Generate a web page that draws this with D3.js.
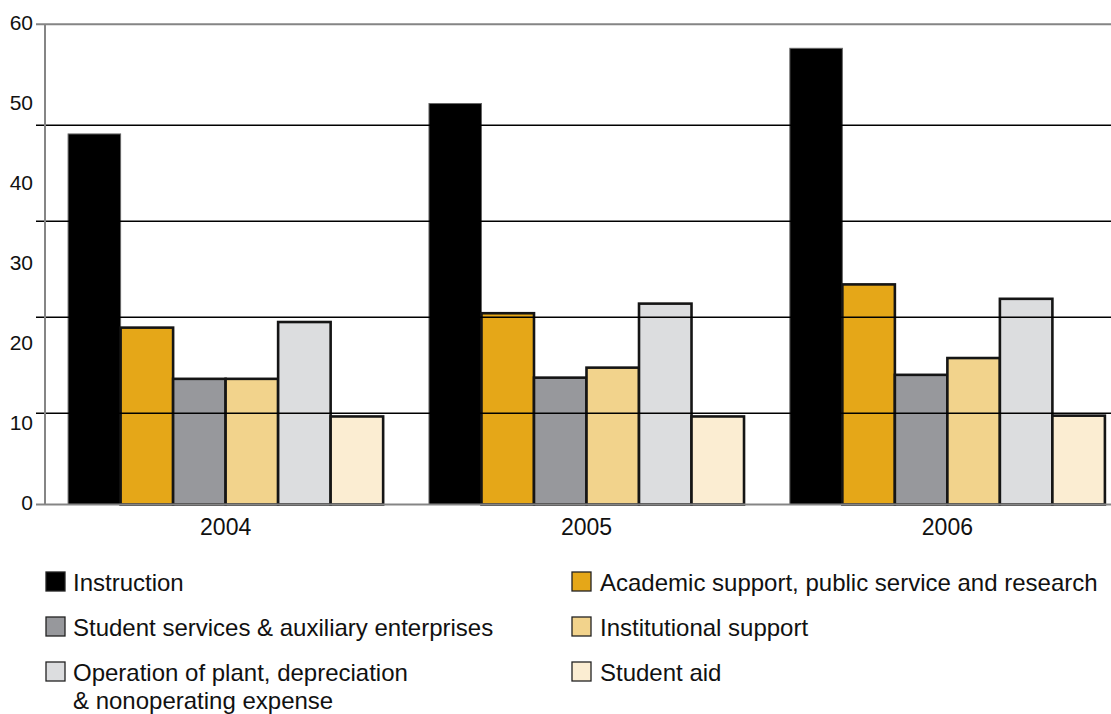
<!DOCTYPE html>
<html>
<head>
<meta charset="utf-8">
<script src="https://cdn.jsdelivr.net/npm/d3@7"></script>
<style>
  body { margin: 0; background: #fff; }
  svg { display: block; font-family: "Liberation Sans", Arial, Helvetica, sans-serif; }
</style>
</head>
<body>
<div id="chart"></div>
<script>
// datos:
const years = ["2004", "2005", "2006"]
const categories = [
  "Instruction",
  "Academic support, public service and research",
  "Student services & auxiliary enterprises",
  "Institutional support",
  "Operation of plant, depreciation & nonoperating expense",
  "Student aid"
]
const instruction = [46.3, 50.1, 57.0]
const academic = [22.1, 23.9, 27.5]
const studentServices = [15.7, 15.85, 16.2]
const institutional = [15.7, 17.1, 18.3]
const operation = [22.8, 25.1, 25.7]
const studentAid = [11.0, 11.0, 11.1]
const yTicks = [0, 10, 20, 30, 40, 50, 60]
// the horizontal rules in the original don't sit on the labelled ticks
const gridValues = [11.4, 23.4, 35.4, 47.4]

const series = [instruction, academic, studentServices, institutional, operation, studentAid]
const colors = ["#000000", "#e5a718", "#97989c", "#f2d38c", "#dcdddf", "#fbedd2"]

// legend layout: label lines, column, row
const legendItems = [
  { lines: ["Instruction"], col: 0, row: 0 },
  { lines: ["Academic support, public service and research"], col: 1, row: 0 },
  { lines: ["Student services & auxiliary enterprises"], col: 0, row: 1 },
  { lines: ["Institutional support"], col: 1, row: 1 },
  { lines: ["Operation of plant, depreciation", "& nonoperating expense"], col: 0, row: 2 },
  { lines: ["Student aid"], col: 1, row: 2 }
]

// Constantes:
const width = 1111
const height = 714
const plotLeft = 45
const plotTop = 24.3
const plotBottom = 504.5

let svg = d3.select('div#chart').append('svg').attr('width', width).attr('height', height)

// escalas:
let x0 = d3.scaleBand().domain(years).range([plotLeft, 1128]).paddingInner(0.127).paddingOuter(0.064)
let x1 = d3.scaleBand().domain(categories).range([0, x0.bandwidth()])
let y = d3.scaleLinear().domain([0, 60]).range([plotBottom, plotTop])

// barras:
let table = []
years.forEach((yr, i) => {
  categories.forEach((c, j) => {
    table.push({ year: yr, cat: c, idx: j, value: series[j][i] })
  })
})

svg.append('g').attr('id', 'bars')
  .selectAll('rect').data(table).enter().append('rect')
  .attr('x', d => x0(d.year) + x1(d.cat))
  .attr('y', d => y(d.value))
  .attr('width', x1.bandwidth())
  .attr('height', d => y(0) - y(d.value))
  .attr('fill', d => colors[d.idx])
  .attr('stroke', d => d.idx === 0 ? '#666' : '#151515')
  .attr('stroke-width', d => d.idx === 0 ? 1 : 2.6)

// rejilla (on top of the bars, as in the original):
svg.append('g').attr('id', 'grid')
  .selectAll('line').data(gridValues).enter().append('line')
  .attr('x1', 36).attr('x2', width)
  .attr('y1', d => y(d)).attr('y2', d => y(d))
  .attr('stroke', '#000').attr('stroke-width', 1.5)

// marco:
let frame = svg.append('g').attr('id', 'frame')
frame.append('line').attr('x1', 36).attr('x2', width).attr('y1', y(60)).attr('y2', y(60))
  .attr('stroke', '#858585').attr('stroke-width', 2)
frame.append('line').attr('x1', 36).attr('x2', width).attr('y1', y(0)).attr('y2', y(0))
  .attr('stroke', '#858585').attr('stroke-width', 2)
frame.append('line').attr('x1', plotLeft).attr('x2', plotLeft).attr('y1', y(60)).attr('y2', y(0))
  .attr('stroke', '#858585').attr('stroke-width', 2)

// ejes:
let yAxisGroup = svg.append('g').attr('transform', `translate(${plotLeft}, -2)`)
  .call(d3.axisLeft(y).tickValues(yTicks).tickSize(0).tickPadding(12))
yAxisGroup.select('.domain').remove()
yAxisGroup.selectAll('text').attr('font-size', 21).attr('fill', '#111')
  .style('font-family', '"Liberation Sans", Arial, sans-serif')

let xAxisGroup = svg.append('g').attr('transform', `translate(0, ${plotBottom})`)
  .call(d3.axisBottom(x0).tickSize(0).tickPadding(14))
xAxisGroup.select('.domain').remove()
xAxisGroup.selectAll('text').attr('font-size', 23).attr('fill', '#111')
  .style('font-family', '"Liberation Sans", Arial, sans-serif')

// leyenda:
const colX = [46, 572]
const rowY = [572, 617, 662]
let legend = svg.append('g').attr('id', 'legend')
let items = legend.selectAll('g').data(legendItems).enter().append('g')
  .attr('transform', d => `translate(${colX[d.col]}, ${rowY[d.row]})`)
items.append('rect')
  .attr('x', 0).attr('y', 0).attr('width', 19).attr('height', 19)
  .attr('fill', (d, i) => colors[i])
  .attr('stroke', '#222').attr('stroke-width', 1.3)
items.each(function(d) {
  let t = d3.select(this).append('text')
    .attr('x', d.col === 0 ? 27 : 28).attr('y', 19)
    .attr('font-size', 24).attr('fill', '#111')
  d.lines.forEach((ln, k) => {
    t.append('tspan').attr('x', d.col === 0 ? 27 : 28).attr('dy', k === 0 ? 0 : 28).text(ln)
  })
})
</script>
</body>
</html>
